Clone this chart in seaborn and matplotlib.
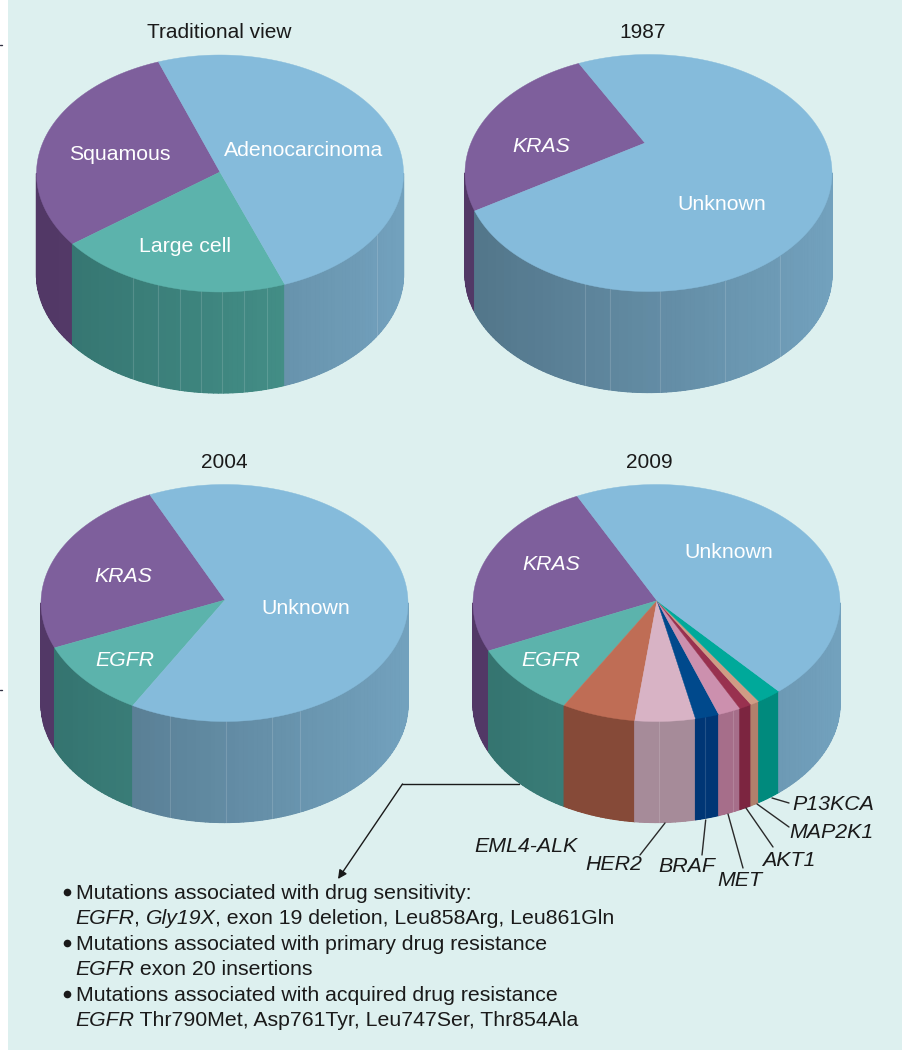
import numpy as np
import pandas as pd
import matplotlib
matplotlib.use("Agg")
import matplotlib.pyplot as plt
from matplotlib.collections import PolyCollection
from matplotlib.patches import Rectangle
import seaborn as sns

# ---- data (shares of each pie, percent, counter-clockwise from the start angle)
traditional_labels = ["Squamous", "Large cell", "Adenocarcinoma"]
traditional_values = [29.7, 20.6, 49.7]
y1987_labels = ["KRAS", "Unknown"]
y1987_values = [24, 76]
y2004_labels = ["KRAS", "EGFR", "Unknown"]
y2004_values = [24.5, 10.5, 65]
y2009_labels = ["KRAS", "EGFR", "EML4-ALK", "HER2", "BRAF", "MET", "AKT1", "MAP2K1", "P13KCA", "Unknown"]
y2009_values = [24.5, 10, 6.5, 5.3, 2.1, 2, 1.1, 0.8, 2.2, 45.5]
titles = ["Traditional view", "1987", "2004", "2009"]

bullet_lines = [
    [("Mutations associated with drug sensitivity:", False)],
    [("EGFR", True), (", ", False), ("Gly19X", True), (", exon 19 deletion, Leu858Arg, Leu861Gln", False)],
    [("Mutations associated with primary drug resistance", False)],
    [("EGFR", True), (" exon 20 insertions", False)],
    [("Mutations associated with acquired drug resistance", False)],
    [("EGFR", True), (" Thr790Met, Asp761Tyr, Leu747Ser, Thr854Ala", False)],
]

BG = "#ddf0ef"
TOP = {"Squamous": "#7e5f9c", "KRAS": "#7e5f9c", "Large cell": "#5cb3ac", "EGFR": "#5cb3ac",
       "Adenocarcinoma": "#85bbdb", "Unknown": "#85bbdb", "EML4-ALK": "#bf6d55", "HER2": "#d8b3c5",
       "BRAF": "#00498c", "MET": "#cc90ae", "AKT1": "#99314f", "MAP2K1": "#d09c85", "P13KCA": "#00a99a"}
BLUE_W = ("#527589", "#72a1bd")
TEAL_W = ("#34736f", "#4a9a91")
PURP_W = ("#523866", "#5a4070")
WALL = {"Squamous": PURP_W, "KRAS": PURP_W, "Large cell": TEAL_W, "EGFR": TEAL_W,
        "Adenocarcinoma": BLUE_W, "Unknown": BLUE_W, "EML4-ALK": ("#864a38", "#864a38"),
        "HER2": ("#a68b99", "#a68b99"), "BRAF": ("#003675", "#003675"), "MET": ("#a66e8a", "#a66e8a"),
        "AKT1": ("#7c2540", "#7c2540"), "MAP2K1": ("#b0806c", "#b0806c"), "P13KCA": ("#008a7d", "#008a7d")}

sns.set_theme(style="white")
plt.rcParams["font.family"] = ["Liberation Sans", "DejaVu Sans"]

fig = plt.figure(figsize=(9.03, 10.5), dpi=100, facecolor="white")
ax = fig.add_axes([0, 0, 1, 1])
ax.set_xlim(0, 903)
ax.set_ylim(1050, 0)
ax.axis("off")
sns.despine(ax=ax, left=True, bottom=True)
ax.add_patch(Rectangle((8, 0), 895, 1050, facecolor=BG, edgecolor="none", zorder=0))
ax.plot([0, 2], [45, 45], color="#333344", lw=1)
ax.plot([0, 2], [690, 690], color="#333344", lw=1)

RX, RY, DEPTH = 183.5, 118.5, 101


def draw_pie(labels, values, cx, cy, apex, start, seams):
    df = pd.DataFrame({"label": labels, "value": values})
    df["a0"] = start + df["value"].cumsum().shift(fill_value=0) * 3.6
    df["a1"] = df["a0"] + df["value"] * 3.6
    for _, r in df.iterrows():
        th = np.radians(np.linspace(r.a0, r.a1, max(4, int(r.value * 6))))
        xs = cx + RX * np.cos(th)
        ys = cy - RY * np.sin(th)
        ax.fill(np.r_[apex[0], xs], np.r_[apex[1], ys], color=TOP[r.label], lw=0.3, zorder=3)
        # side wall: only the front half of the rim is visible
        for shift in (0, 360):
            lo, hi = max(r.a0, 180 + shift), min(r.a1, 360 + shift)
            if hi <= lo:
                continue
            n = max(2, int((hi - lo) / 1.5))
            t = np.radians(np.linspace(lo, hi, n + 1))
            wx = cx + RX * np.cos(t)
            wy = cy - RY * np.sin(t)
            pal = sns.blend_palette(WALL[r.label], 48)
            # one solid wall underneath closes the hairline gaps between the shaded strips
            base = pal[24]
            ax.fill(np.r_[wx, wx[::-1]], np.r_[wy, wy[::-1] + DEPTH], color=base, lw=0.3, zorder=1.9)
            polys, cols = [], []
            for i in range(n):
                polys.append([(wx[i], wy[i]), (wx[i + 1], wy[i + 1]),
                              (wx[i + 1], wy[i + 1] + DEPTH), (wx[i], wy[i] + DEPTH)])
                k = (0.5 * (wx[i] + wx[i + 1]) - (cx - RX)) / (2 * RX)
                cols.append(pal[int(np.clip(k, 0, 0.999) * 48)])
            ax.add_collection(PolyCollection(polys, facecolors=cols, edgecolors=cols, linewidths=0.9, zorder=2))
    # faint vertical seams on the walls
    for sx in seams:
        u = np.sqrt(max(0, 1 - ((sx - cx) / RX) ** 2))
        y0 = cy + RY * u
        ax.plot([sx, sx], [y0, y0 + DEPTH], color="white", alpha=0.14, lw=0.8, zorder=2.5)


draw_pie(traditional_labels, traditional_values, 220, 173.5, (220, 172), 109.6,
         [133, 158, 180, 201, 222, 244, 267, 377])
draw_pie(y1987_labels, y1987_values, 648.5, 173, (645, 143), 112.3, [585, 610, 660, 725, 780])
draw_pie(y2004_labels, y2004_values, 224.5, 603, (225, 600), 114, [170, 226, 272, 300])
draw_pie(y2009_labels, y2009_values, 656.5, 603, (657, 600.7), 115.6, [659, 705, 733])

# titles
for t, (x, y) in zip(titles, [(219, 32), (643, 32), (224, 462), (649, 462)]):
    ax.text(x, y, t, ha="center", va="center", fontsize=15, color="#1a1a1a", zorder=5)

# labels on the tops
inside = [("Squamous", 120, 154, False), ("Adenocarcinoma", 304, 150, False), ("Large cell", 185, 247, False),
          ("KRAS", 541, 147, True), ("Unknown", 722, 205, False),
          ("KRAS", 123, 576, True), ("EGFR", 125, 660, True), ("Unknown", 306, 608, False),
          ("KRAS", 551, 564, True), ("EGFR", 551, 661, True), ("Unknown", 729, 552, False)]
for s, x, y, it in inside:
    ax.text(x, y, s, ha="center", va="center", fontsize=15.3, color="white",
            style="italic" if it else "normal", zorder=5)

# outer gene labels
outer = [("EML4-ALK", 526, 846), ("HER2", 614, 865), ("BRAF", 687, 866), ("MET", 740, 881),
         ("AKT1", 789, 860), ("MAP2K1", 831, 832), ("P13KCA", 833, 804)]
for s, x, y in outer:
    ax.text(x, y, s, ha="center", va="center", fontsize=15.4, style="italic", color="#1a1a1a", zorder=5)

leaders = [((665, 823), (640, 855)), ((705.7, 820), (702, 855)), ((728, 814), (743, 868)),
           ((746, 808), (773, 847)), ((757, 804), (789, 827)), ((772, 798), (789, 803))]
for a, b in leaders:
    ax.plot([a[0], b[0]], [a[1], b[1]], color="#2a2a2a", lw=1, zorder=4)

# arrow to the mutation list
ax.plot([519, 402.5], [784, 784], color="#1a1a1a", lw=1, zorder=4)
ax.annotate("", xy=(338, 879), xytext=(402.5, 784),
            arrowprops=dict(arrowstyle="-|>", color="#1a1a1a", lw=1, mutation_scale=13, shrinkA=0, shrinkB=0), zorder=4)

# bullet text
fig.canvas.draw()
rend = fig.canvas.get_renderer()
baselines = [899, 924, 950, 975, 1001, 1026]
for i, (segs, yb) in enumerate(zip(bullet_lines, baselines)):
    x = 76 if i % 2 == 0 else 75
    if i % 2 == 0:
        ax.plot([67.5], [yb - 7], "o", color="#1a1a1a", ms=5.5, mew=0, zorder=5)
    for s, it in segs:
        t = ax.text(x, yb, s, ha="left", va="baseline", fontsize=15.3, color="#1a1a1a",
                    style="italic" if it else "normal", zorder=5)
        x += t.get_window_extent(rend).width

fig.savefig("out.png", dpi=100, facecolor="white")
